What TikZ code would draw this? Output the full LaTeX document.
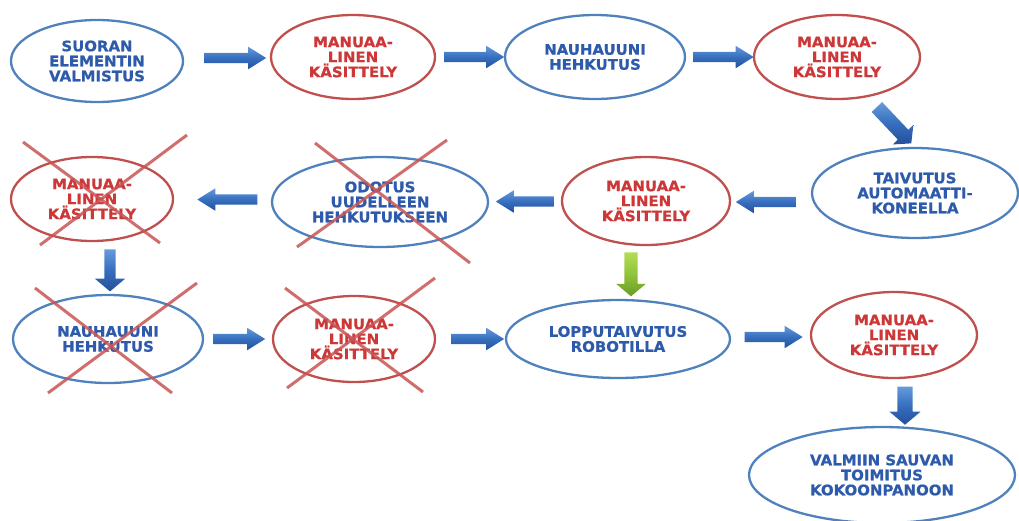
\documentclass[tikz,border=0pt]{standalone}
\usepackage{fontspec}
\newfontfamily\dfont[BoldFeatures={FakeBold=0.8},FakeStretch=1.03]{DejaVu Sans}
\usetikzlibrary{shapes.geometric,shapes.arrows,calc}
\definecolor{eblue}{RGB}{79,129,189}
\definecolor{ered}{RGB}{192,80,77}
\definecolor{tblue}{RGB}{45,90,170}
\definecolor{tred}{RGB}{205,55,55}
\definecolor{xred}{RGB}{200,85,85}
\definecolor{abluel}{RGB}{100,155,220}
\definecolor{abluem}{RGB}{55,110,190}
\definecolor{abluer}{RGB}{35,80,155}
\definecolor{greenl}{RGB}{180,220,85}
\definecolor{greenm}{RGB}{145,195,60}
\definecolor{greend}{RGB}{105,155,35}
\begin{document}
\begin{tikzpicture}[x=1pt,y=-1pt,
  el/.style={ellipse, line width=2.3pt, inner sep=0pt, align=center, fill=white,
    font=\dfont\bfseries\fontsize{14.5}{15}\selectfont},
  bel/.style={el, draw=eblue, text=tblue},
  rel/.style={el, draw=ered, text=tred},
  harrow/.style={single arrow, draw=none, inner xsep=0pt, inner ysep=5pt,
    single arrow head extend=6pt, single arrow tip angle=64,
    top color=abluel, bottom color=abluer, middle color=abluem},
  varrow/.style={single arrow, draw=none, inner xsep=0pt, inner ysep=7.5pt,
    single arrow head extend=8pt, single arrow tip angle=100,
    top color=abluel, bottom color=abluer, middle color=abluem},
  garrow/.style={varrow, inner ysep=6.5pt,
    top color=greenl, bottom color=greend, middle color=greenm},
  xline/.style={draw=xred, line width=3pt, opacity=0.85},
]
\useasboundingbox (0,0) rectangle (1019,520);

% process steps
\node[bel, minimum width=172pt, minimum height=82pt] (n1) at (97,61) {SUORAN\\ELEMENTIN\\VALMISTUS};
\node[rel, minimum width=164pt, minimum height=84pt] (n2) at (353,57) {MANUAA-\\LINEN\\KÄSITTELY};
\node[bel, minimum width=180pt, minimum height=84pt] (n3) at (595,57) {NAUHAUUNI\\HEHKUTUS};
\node[rel, minimum width=166pt, minimum height=84pt] (n4) at (837,57) {MANUAA-\\LINEN\\KÄSITTELY};
\node[bel, minimum width=206pt, minimum height=90pt] (n5) at (915,193) {TAIVUTUS\\AUTOMAATTI-\\KONEELLA};
\node[rel, minimum width=168pt, minimum height=88pt] (n6) at (646,201) {MANUAA-\\LINEN\\KÄSITTELY};
\node[bel, minimum width=216pt, minimum height=90pt] (n7) at (380,202) {ODOTUS\\UUDELLEEN\\HEHKUTUKSEEN};
\node[rel, minimum width=162pt, minimum height=84pt] (n8) at (92,199) {MANUAA-\\LINEN\\KÄSITTELY};
\node[bel, minimum width=190pt, minimum height=88pt] (n9) at (108,339) {NAUHAUUNI\\HEHKUTUS};
\node[rel, minimum width=162pt, minimum height=86pt] (n10) at (354,339) {MANUAA-\\LINEN\\KÄSITTELY};
\node[bel, minimum width=224pt, minimum height=78pt] (n11) at (618,339) {LOPPUTAIVUTUS\\ROBOTILLA};
\node[rel, minimum width=166pt, minimum height=86pt] (n12) at (894,335) {MANUAA-\\LINEN\\KÄSITTELY};
\node[bel, minimum width=266pt, minimum height=96pt] (n13) at (882,475) {VALMIIN SAUVAN\\TOIMITUS\\KOKOONPANOON};

% block arrows between steps
\node[harrow, minimum height=62pt] (a1) at ($(n1.east)!0.5!(n2.west)+(4,-1)$) {};
\node[harrow, minimum height=60pt] (a2) at ($(n2.east)!0.5!(n3.west)$) {};
\node[harrow, minimum height=60pt] (a3) at ($(n3.east)!0.5!(n4.west)$) {};
\node[varrow, inner ysep=7pt, single arrow head extend=7pt, minimum height=50pt, rotate=-46.6] (a4) at ($(n4)!0.5!(n5)+(16,-2)$) {};
\node[harrow, minimum height=60pt, shape border rotate=180] (a5) at ($(n5.west)!0.5!(n6.east)+(-1,5)$) {};
\node[harrow, minimum height=58pt, shape border rotate=180] (a6) at ($(n6.west)!0.5!(n7.east)+(4,0)$) {};
\node[harrow, minimum height=60pt, shape border rotate=180] (a7) at ($(n7.west)!0.5!(n8.east)+(9,-1)$) {};
\node[varrow, inner ysep=5.5pt, single arrow head extend=9.5pt, minimum height=42pt, rotate=-90] (a8) at ($(n8.south)!0.5!(n9.north)+(10,0)$) {};
\node[harrow, minimum height=52pt] (a9) at ($(n9.east)!0.5!(n10.west)+(-3,0)$) {};
\node[harrow, minimum height=53pt] (a10) at ($(n10.east)!0.5!(n11.west)+(3,0)$) {};
\node[garrow, minimum height=44pt, rotate=-90] (a11) at ($(n6.south)!0.5!(n11.north)+(-1,-1)$) {};
\node[harrow, minimum height=58pt] (a12) at ($(n11.east)!0.5!(n12.west)+(-1,0)$) {};
\node[varrow, minimum height=38pt, rotate=-90] (a13) at ($(n12.south)!0.5!(n13.north)+(17,0)$) {};

% crossed-out steps
\draw[xline] ($(n8)+(-69,-57)$) -- ($(n8)+(68,44)$);
\draw[xline] ($(n8)+(95,-64)$) -- ($(n8)+(-52,46)$);
\draw[xline] ($(n7)+(-65,-59)$) -- ($(n7)+(90,61)$);
\draw[xline] ($(n7)+(67,-62)$) -- ($(n7)+(-83,45)$);
\draw[xline] ($(n9)+(-73,-51)$) -- ($(n9)+(64,54)$);
\draw[xline] ($(n9)+(89,-56)$) -- ($(n9)+(-60,54)$);
\draw[xline] ($(n10)+(-69,-51)$) -- ($(n10)+(69,53)$);
\draw[xline] ($(n10)+(81,-61)$) -- ($(n10)+(-67,49)$);
\end{tikzpicture}
\end{document}
